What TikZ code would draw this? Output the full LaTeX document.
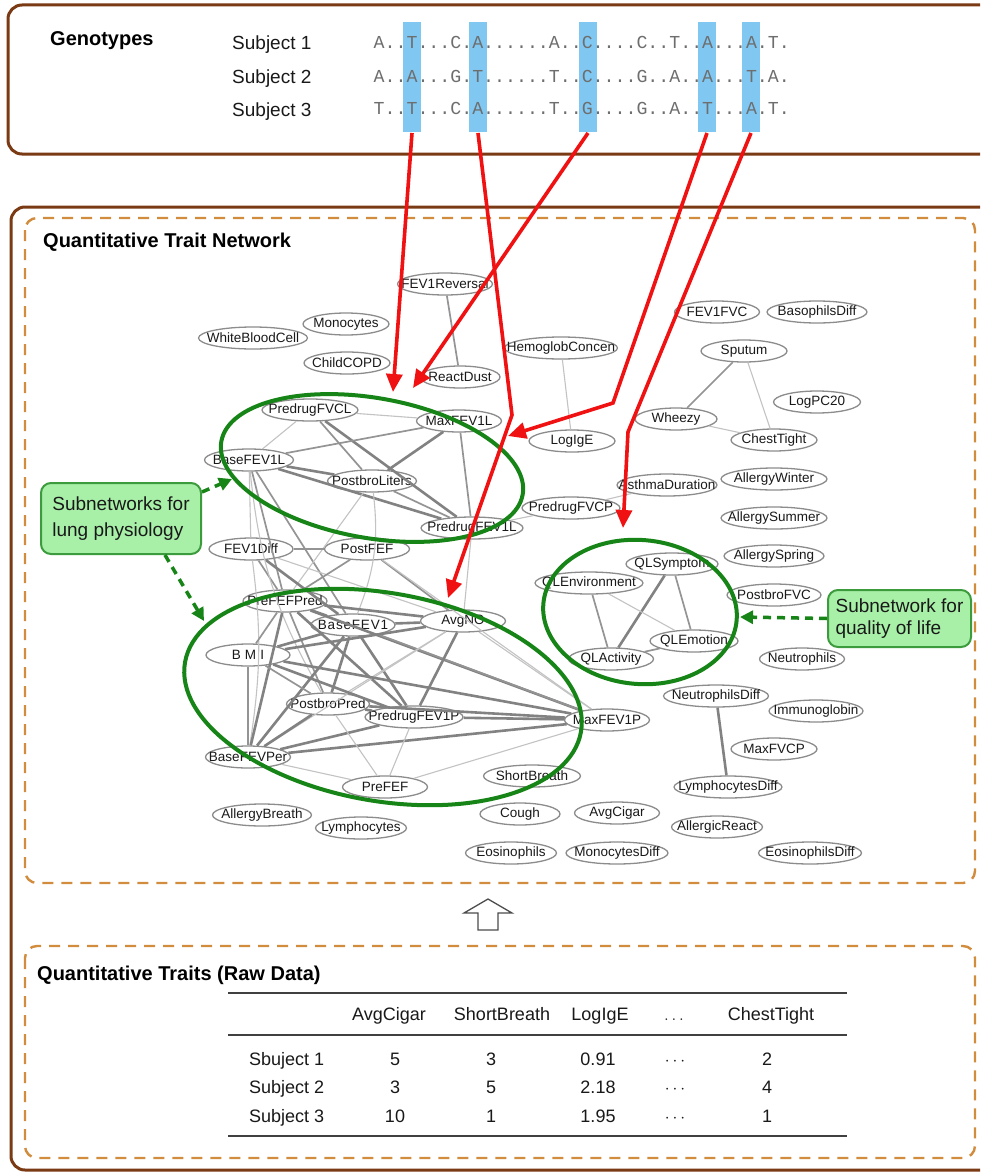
\documentclass[tikz,border=0pt]{standalone}
\usepackage{fontspec}
\setmainfont{Liberation Sans}
\newfontfamily\seqfont{Liberation Mono}
\usetikzlibrary{arrows.meta,shapes.geometric}

\definecolor{boxbrown}{RGB}{122,58,20}
\definecolor{dashorange}{RGB}{210,140,62}
\definecolor{snpblue}{RGB}{128,200,242}
\definecolor{arrred}{RGB}{240,18,18}
\definecolor{clgreen}{RGB}{22,132,22}
\definecolor{notefill}{RGB}{168,240,168}
\definecolor{noteline}{RGB}{60,155,60}
\definecolor{ellgray}{RGB}{140,140,140}
\definecolor{edark}{RGB}{130,130,130}
\definecolor{emid}{RGB}{148,148,148}
\definecolor{elight}{RGB}{195,195,195}
\definecolor{txt}{RGB}{25,25,25}
\definecolor{seqgray}{RGB}{110,110,110}

\begin{document}
\begin{tikzpicture}[x=1pt,y=-1pt,
  frame/.style={draw=boxbrown, line width=3pt, rounded corners=14pt},
  panel/.style={draw=dashorange, line width=2.4pt, dash pattern=on 11pt off 8pt, rounded corners=12pt},
  trait/.style={shape=ellipse, draw=ellgray, line width=1.3pt, inner xsep=-60pt, inner ysep=-60pt,
    minimum height=22pt, minimum width=#1pt, text=txt, font=\fontsize{13.5}{13.5}\selectfont},
  ed/.style={draw=edark, line width=2.6pt},
  em/.style={draw=emid, line width=1.7pt},
  el/.style={draw=elight, line width=1.1pt},
  cluster/.style={draw=clgreen, line width=4pt},
  snparrow/.style={draw=arrred, line width=3.6pt, -{Triangle[length=18pt,width=16pt]}},
  pointer/.style={draw=clgreen, line width=3.5pt, dash pattern=on 8pt off 6pt, -{Triangle[length=13pt,width=13pt]}},
  note/.style={draw=noteline, fill=notefill, line width=2pt, rounded corners=10pt, align=left, text=txt},
  heading/.style={font=\bfseries\fontsize{20}{20}\selectfont, text=black, anchor=base west, inner sep=0pt},
  subj/.style={font=\fontsize{19}{19}\selectfont, text=txt, anchor=base west, inner sep=0pt},
  seq/.style={font=\seqfont\fontsize{18.25}{18.25}\selectfont, text=seqgray, anchor=base west, inner sep=0pt},
  cell/.style={font=\fontsize{18}{18}\selectfont, text=txt, anchor=base, inner sep=0pt},
  rule/.style={draw=black!75, line width=2pt}
]
\useasboundingbox (0,0) rectangle (980,1172);
\clip (0,0) rectangle (980,1172);
\fill[white] (0,0) rectangle (980,1172);

% ---------- frames ----------
\draw[frame] (8,5) rectangle (1010,154);
\draw[frame] (11,207) rectangle (1010,1170);
\draw[panel] (25,218) rectangle (975,883);
\draw[panel] (25,946) rectangle (975,1158);

% ---------- genotypes ----------
\fill[snpblue] (403,22) rectangle (421,132);
\fill[snpblue] (469,22) rectangle (487,132);
\fill[snpblue] (579,22) rectangle (597,132);
\fill[snpblue] (698,22) rectangle (716,132);
\fill[snpblue] (742,22) rectangle (760,132);
\coordinate (snp1) at (412,133);
\coordinate (snp2) at (478,133);
\coordinate (snp3) at (588,133);
\coordinate (snp4) at (707,133);
\coordinate (snp5) at (751,133);

\node[heading] (gtitle) at (50,46) {Genotypes};
\node[subj] (s1) at (232,50) {Subject 1};
\node[subj] (s2) at (232,83) {Subject 2};
\node[subj] (s3) at (232,116) {Subject 3};
\node[seq] (q1) at (373.5,48.5) {A..T...C.A......A..C....C..T..A...A.T.};
\node[seq] (q2) at (373.5,82) {A..A...G.T......T..C....G..A..A...T.A.};
\node[seq] (q3) at (373.5,114.5) {T..T...C.A......T..G....G..A..T...A.T.};

% ---------- trait network ----------
\node[heading] (nettitle) at (43,247) {Quantitative Trait Network};

\node[trait=95] (FEV1Reversal) at (445,284) {FEV1Reversal};
\node[trait=86] (Monocytes) at (346,324) {Monocytes};
\node[trait=109] (WhiteBloodCell) at (253,338) {WhiteBloodCell};
\node[trait=86] (ChildCOPD) at (347,363) {ChildCOPD};
\node[trait=80] (ReactDust) at (460,377) {ReactDust};
\node[trait=113] (HemoglobConcen) at (561,348) {HemoglobConcen};
\node[trait=85] (FEV1FVC) at (717,312) {FEV1FVC};
\node[trait=100] (BasophilsDiff) at (817,312) {BasophilsDiff};
\node[trait=86] (Sputum) at (744,351) {Sputum};
\node[trait=87] (LogPC20) at (817,402) {LogPC20};
\node[trait=82] (Wheezy) at (676,419) {Wheezy};
\node[trait=86] (ChestTight) at (774,440) {ChestTight};
\node[trait=96] (PredrugFVCL) at (310,410) {PredrugFVCL};
\node[trait=85] (MaxFEV1L) at (459,421) {MaxFEV1L};
\node[trait=86] (LogIgE) at (572,441) {LogIgE};
\node[trait=89] (BaseFEV1L) at (249,460) {BaseFEV1L};
\node[trait=89] (PostbroLiters) at (372,481) {PostbroLiters};
\node[trait=100] (AsthmaDuration) at (667,485) {AsthmaDuration};
\node[trait=106] (AllergyWinter) at (774,479) {AllergyWinter};
\node[trait=98] (PredrugFVCP) at (571,508) {PredrugFVCP};
\node[trait=106] (AllergySummer) at (774,518) {AllergySummer};
\node[trait=102] (PredrugFEV1L) at (472,528) {PredrugFEV1L};
\node[trait=84] (FEV1Diff) at (251,549) {FEV1Diff};
\node[trait=85] (PostFEF) at (367,549) {PostFEF};
\node[trait=100] (AllergySpring) at (774,556) {AllergySpring};
\node[trait=92] (QLSymptom) at (672,564) {QLSymptom};
\node[trait=108] (QLEnvironment) at (589,583) {QLEnvironment};
\node[trait=94] (PostbroFVC) at (774,595) {PostbroFVC};
\node[trait=84] (PreFEFPred) at (285,601) {PreFEFPred};
\node[trait=85] (AvgNO) at (463,621) {AvgNO};
\node[trait=84] (BaseFEV1) at (353,625) {\addfontfeature{LetterSpace=6}BaseFEV1};
\node[trait=88] (QLEmotion) at (694,641) {QLEmotion};
\node[trait=84] (BMI) at (248,655) {\addfontfeature{LetterSpace=30}BMI};
\node[trait=85] (QLActivity) at (611,659) {QLActivity};
\node[trait=85] (Neutrophils) at (802,659) {Neutrophils};
\node[trait=105] (NeutrophilsDiff) at (716,696) {NeutrophilsDiff};
\node[trait=83] (PostbroPred) at (328,704) {PostbroPred};
\node[trait=94] (Immunoglobin) at (816,711) {Immunoglobin};
\node[trait=98] (PredrugFEV1P) at (414,717) {PredrugFEV1P};
\node[trait=85] (MaxFEV1P) at (607,720) {MaxFEV1P};
\node[trait=86] (MaxFVCP) at (774,749) {MaxFVCP};
\node[trait=85] (BaseFEVPer) at (248,757) {BaseFEVPer};
\node[trait=97] (ShortBreath) at (532,776) {ShortBreath};
\node[trait=85] (PreFEF) at (385,787) {PreFEF};
\node[trait=108] (LymphocytesDiff) at (728,787) {LymphocytesDiff};
\node[trait=99] (AllergyBreath) at (262,815) {AllergyBreath};
\node[trait=80] (Cough) at (520,814) {Cough};
\node[trait=85] (AvgCigar) at (617,813) {AvgCigar};
\node[trait=91] (AllergicReact) at (717,827) {AllergicReact};
\node[trait=91] (Lymphocytes) at (361,828) {Lymphocytes};
\node[trait=91] (Eosinophils) at (511,853) {Eosinophils};
\node[trait=102] (MonocytesDiff) at (617,853) {MonocytesDiff};
\node[trait=103] (EosinophilsDiff) at (810,853) {EosinophilsDiff};

% correlations: upper lung group
\draw[el] (PredrugFVCL) -- (MaxFEV1L);
\draw[el] (PredrugFVCL) -- (BaseFEV1L);
\draw[em] (PredrugFVCL) -- (PostbroLiters);
\draw[ed] (PredrugFVCL) -- (PredrugFEV1L);
\draw[em] (MaxFEV1L) -- (BaseFEV1L);
\draw[ed] (MaxFEV1L) -- (PostbroLiters);
\draw[em] (MaxFEV1L) -- (PredrugFEV1L);
\draw[ed] (BaseFEV1L) -- (PostbroLiters);
\draw[ed] (BaseFEV1L) -- (PredrugFEV1L);
\draw[em] (PostbroLiters) -- (PredrugFEV1L);
\draw[el] (BaseFEV1L) -- (FEV1Diff);
\draw[em] (BaseFEV1L) -- (PreFEFPred);
\draw[em] (BaseFEV1L) -- (BaseFEV1);
\draw[el] (PostbroLiters) -- (PreFEFPred);
\draw[el] (PredrugFEV1L) -- (PredrugFVCP);
\draw[el] (PredrugFVCP) -- (AsthmaDuration);
\draw[el] (PredrugFEV1L) -- (AvgNO);
\draw[em] (FEV1Reversal) -- (ReactDust);
\draw[el] (HemoglobConcen) -- (LogIgE);

% links between the two lung groups
\draw[em] (FEV1Diff) -- (PostFEF);
\draw[em] (FEV1Diff) -- (PreFEFPred);
\draw[ed] (FEV1Diff) -- (BaseFEV1);
\draw[el] (FEV1Diff) -- (AvgNO);
\draw[em] (PostFEF) -- (PreFEFPred);
\draw[em] (PostFEF) -- (AvgNO);
\draw[el] (PostFEF) -- (MaxFEV1P);
\draw[el] (FEV1Diff) to[bend left=8] (BaseFEVPer);
\draw[el] (BaseFEV1L) to[bend right=12] (PostbroPred);
\draw[el] (PostbroLiters) to[bend left=14] (BaseFEV1);

% lower lung group
\draw[ed] (PreFEFPred) -- (BaseFEV1);
\draw[ed] (PreFEFPred) -- (AvgNO);
\draw[em] (PreFEFPred) -- (BMI);
\draw[em] (PreFEFPred) -- (PostbroPred);
\draw[ed] (PreFEFPred) -- (PredrugFEV1P);
\draw[ed] (PreFEFPred) -- (MaxFEV1P);
\draw[ed] (PreFEFPred) -- (BaseFEVPer);
\draw[ed] (BaseFEV1) -- (AvgNO);
\draw[ed] (BaseFEV1) -- (BMI);
\draw[ed] (BaseFEV1) -- (BaseFEVPer);
\draw[ed] (BaseFEV1) -- (PostbroPred);
\draw[ed] (BaseFEV1) -- (PredrugFEV1P);
\draw[em] (BaseFEV1) -- (MaxFEV1P);
\draw[ed] (AvgNO) -- (BMI);
\draw[ed] (AvgNO) -- (PredrugFEV1P);
\draw[el] (AvgNO) -- (BaseFEVPer);
\draw[el] (AvgNO) -- (PostbroPred);
\draw[el] (AvgNO) -- (MaxFEV1P);
\draw[em] (BMI) -- (BaseFEVPer);
\draw[ed] (BMI) -- (PredrugFEV1P);
\draw[ed] (BMI) -- (MaxFEV1P);
\draw[em] (BMI) -- (PostbroPred);
\draw[ed] (PostbroPred) -- (PredrugFEV1P);
\draw[ed] (PostbroPred) -- (BaseFEVPer);
\draw[ed] (PostbroPred) -- (MaxFEV1P);
\draw[ed] (PredrugFEV1P) -- (MaxFEV1P);
\draw[ed] (PredrugFEV1P) -- (BaseFEVPer);
\draw[ed] (BaseFEVPer) -- (MaxFEV1P);
\draw[el] (BaseFEVPer) -- (PreFEF);
\draw[el] (PreFEF) -- (MaxFEV1P);
\draw[el] (PreFEF) -- (PredrugFEV1P);
\draw[el] (PostbroPred) -- (PreFEF);

% symptoms, quality of life, blood counts
\draw[em] (Sputum) -- (Wheezy);
\draw[el] (Sputum) -- (ChestTight);
\draw[el] (Wheezy) -- (ChestTight);
\draw[ed] (QLSymptom) -- (QLActivity);
\draw[em] (QLSymptom) -- (QLEmotion);
\draw[em] (QLEnvironment) -- (QLActivity);
\draw[el] (QLEnvironment) -- (QLEmotion);
\draw[em] (QLActivity) -- (QLEmotion);
\draw[ed] (NeutrophilsDiff) -- (LymphocytesDiff);

% subnetwork outlines
\draw[cluster, rotate around={-10:(372,468)}] (372,468) ellipse (153 and 70);
\draw[cluster, rotate around={-10:(383,697)}] (383,697) ellipse (201 and 104);
\draw[cluster, rotate around={-5:(640,612)}] (640,612) ellipse (97 and 72);

% callouts
\node[note, font=\fontsize{19}{26}\selectfont, minimum width=160pt, minimum height=71pt, anchor=north west]
  (lungnote) at (40,482) {Subnetworks for\\lung physiology};
\node[note, font=\fontsize{19}{22}\selectfont, minimum width=143pt, minimum height=57pt, anchor=north west]
  (qolnote) at (827,589) {Subnetwork for\\quality of life};
\coordinate (lungtipA) at (232,479);
\coordinate (lungtipB) at (204,621);
\coordinate (qoltip) at (740,617);
\draw[pointer] ([yshift=-10pt]lungnote.north east) -- (lungtipA);
\draw[pointer] ([xshift=-37pt]lungnote.south east) -- (lungtipB);
\draw[pointer] (qolnote.west) -- (qoltip);

% SNP associations
\coordinate (tip1) at (393,392);
\coordinate (bend2) at (512,415);
\coordinate (tip2) at (448,598);
\coordinate (tip3) at (413,388);
\coordinate (bend4) at (613,403);
\coordinate (tip4) at (508,436);
\coordinate (bend5) at (628,432);
\coordinate (tip5) at (623,528);
\draw[snparrow] (snp1) -- (tip1);
\draw[snparrow] (snp2) -- (bend2) -- (tip2);
\draw[snparrow] (snp3) -- (tip3);
\draw[snparrow] (snp4) -- (bend4) -- (tip4);
\draw[snparrow] (snp5) -- (bend5) -- (tip5);

% ---------- raw data ----------
\draw[draw=black!70, fill=white, line width=1.3pt]
  (478,930) -- (478,913) -- (464,913) -- (488,899) -- (512,913) -- (498,913) -- (498,930) -- cycle;

\node[heading] (rawtitle) at (37,980) {Quantitative Traits (Raw Data)};
\draw[rule] (228,993) -- (847,993);
\draw[rule, line width=1.6pt] (228,1035) -- (847,1035);
\draw[rule] (228,1136) -- (847,1136);

\node[cell] (h1) at (389,1020) {AvgCigar};
\node[cell] (h2) at (502,1020) {ShortBreath};
\node[cell] (h3) at (600,1020) {LogIgE};
\node[cell] (h4) at (674,1020) {$\ldots$};
\node[cell] (h5) at (771,1020) {ChestTight};

\node[cell, anchor=base west] (r1) at (249,1065) {Sbuject 1};
\node[cell, anchor=base west] (r2) at (249,1093) {Subject 2};
\node[cell, anchor=base west] (r3) at (249,1122) {Subject 3};

\node[cell] (a1) at (395,1065) {5};
\node[cell] (b1) at (491,1065) {3};
\node[cell] (c1) at (598,1065) {0.91};
\node[cell] (d1) at (675,1065) {$\cdots$};
\node[cell] (e1) at (767,1065) {2};
\node[cell] (a2) at (395,1093) {3};
\node[cell] (b2) at (491,1093) {5};
\node[cell] (c2) at (598,1093) {2.18};
\node[cell] (d2) at (675,1093) {$\cdots$};
\node[cell] (e2) at (767,1093) {4};
\node[cell] (a3) at (395,1122) {10};
\node[cell] (b3) at (491,1122) {1};
\node[cell] (c3) at (598,1122) {1.95};
\node[cell] (d3) at (675,1122) {$\cdots$};
\node[cell] (e3) at (767,1122) {1};
\end{tikzpicture}
\end{document}
